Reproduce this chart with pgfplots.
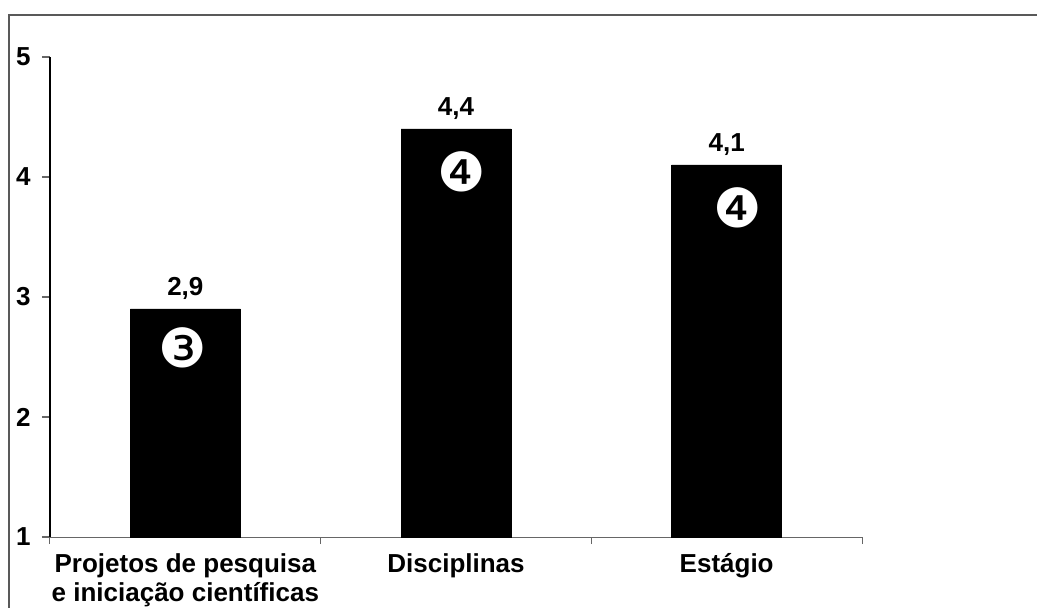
\documentclass[border=0pt]{standalone}
\usepackage{fontspec}
\setmainfont{Liberation Sans}
\newfontfamily\dingfont{DejaVu Sans}
\usepackage{pgfplots}
\pgfplotsset{compat=1.18}

\begin{document}
\begin{tikzpicture}
\useasboundingbox (-50pt,-71pt) rectangle (987pt,537pt);
\begin{axis}[
  at={(0pt,0pt)}, anchor=south west,
  scale only axis, width=812pt, height=480pt,
  xmin=-0.5, xmax=2.5, ymin=1, ymax=5,
  ytick={1,2,3,4,5},
  xtick={0,1,2},
  xticklabels={{Projetos de pesquisa\\e iniciação científicas},{Disciplinas},{Estágio}},
  minor xtick={-0.5,0.5,1.5,2.5},
  axis x line*=bottom, axis y line*=left,
  x axis line style={black!60, line width=1pt},
  y axis line style={black, line width=1.2pt},
  tick align=outside,
  major tick length=8pt, minor tick length=7pt,
  every major x tick/.append style={draw=none},
  every minor x tick/.append style={draw=black!60, line width=1pt},
  every major y tick/.append style={draw=black!60, line width=1.2pt},
  /pgf/number format/assume math mode=true,
  yticklabel style={font=\bfseries\fontsize{26}{26}\selectfont, xshift=-8pt},
  xticklabel style={font=\bfseries\fontsize{26}{29}\selectfont, align=center, anchor=north, yshift=-5pt},
  clip=false,
]
% mean scores per activity
\addplot[ybar, bar width=110pt, fill=black, draw=black,
  nodes near coords={\pgfmathprintnumber[use comma,fixed,precision=1,fixed zerofill]{\pgfplotspointmeta}},
  point meta=y,
  every node near coord/.append style={font=\bfseries\fontsize{26}{26}\selectfont, text=black, yshift=6pt}]
  coordinates {(0,2.9) (1,4.4) (2,4.1)};
% rounded scores shown as circled digits
\addplot[draw=none, forget plot, point meta=explicit symbolic,
  nodes near coords,
  every node near coord/.append style={anchor=center, text=white, font=\dingfont\fontsize{54}{54}\selectfont, inner sep=0pt}]
  coordinates {(-0.01,2.58) [❸] (1.02,4.04) [❹] (2.04,3.74) [❹]};
\end{axis}
\draw[line width=1.3pt, black!65] (-41pt,-71pt) -- (-41pt,522pt) -- (987pt,522pt);
\end{tikzpicture}
\end{document}
